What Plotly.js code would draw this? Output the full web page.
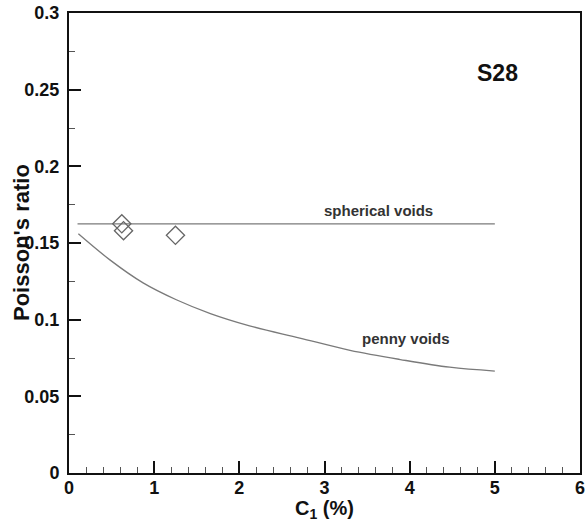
<!DOCTYPE html>
<html>
<head>
<meta charset="utf-8">
<script src="https://cdn.plot.ly/plotly-3.0.1.min.js"></script>
<style>html,body{margin:0;padding:0;background:#fff;}#chart{width:585px;height:526px;}</style>
</head>
<body>
<div id="chart"></div>
<script>
// Measured data (S28)
var measuredC1 = [0.62, 0.64, 1.25];
var measuredNu = [0.1625, 0.158, 0.155];

// Spherical voids model line
var sphericalC1 = [0.1, 5.0];
var sphericalNu = [0.1625, 0.1625];

// Penny voids model curve
var pennyC1 = [0.11, 0.48, 0.87, 1.26, 1.66, 2.12, 2.71, 3.30, 3.89, 4.47, 5.0];
var pennyNu = [0.156, 0.139, 0.124, 0.113, 0.104, 0.096, 0.088, 0.080, 0.074, 0.069, 0.0665];

var xTickVals = [0, 1, 2, 3, 4, 5, 6];
var yTickVals = [0, 0.05, 0.1, 0.15, 0.2, 0.25, 0.3];
var yTickText = ['0', '0.05', '0.1', '0.15', '0.2', '0.25', '0.3'];

var FONT = '"Liberation Sans", Arial, Helvetica, sans-serif';

var traces = [
  {x: sphericalC1, y: sphericalNu, mode: 'lines', line: {color: '#7a7a7a', width: 1.3}, hoverinfo: 'skip'},
  {x: pennyC1, y: pennyNu, mode: 'lines', line: {color: '#7a7a7a', width: 1.3, shape: 'spline'}, hoverinfo: 'skip'},
  {x: measuredC1, y: measuredNu, mode: 'markers',
   marker: {symbol: 'diamond-open', size: 14, color: '#666', line: {width: 1.3, color: '#666'}}}
];

var layout = {
  width: 585, height: 526,
  margin: {l: 69, r: 5, t: 13, b: 53},
  paper_bgcolor: '#fff', plot_bgcolor: '#fff',
  showlegend: false,
  font: {family: FONT, color: '#111'},
  xaxis: {
    range: [0, 6], tickvals: xTickVals, ticktext: xTickVals.map(String),
    showgrid: false, zeroline: false, showline: true, mirror: true,
    linecolor: '#111', linewidth: 2,
    ticks: 'inside', ticklen: 12, tickwidth: 2, tickcolor: '#111',
    minor: {dtick: 0.2, ticks: 'inside', ticklen: 6, tickwidth: 1, tickcolor: '#555', showgrid: false},
    tickfont: {family: FONT, size: 18, weight: 'bold', color: '#111'},
    ticklabelstandoff: -3,
    ticklabeloverflow: 'allow',
    automargin: false
  },
  yaxis: {
    range: [0, 0.3], tickvals: yTickVals, ticktext: yTickText,
    showgrid: false, zeroline: false, showline: true, mirror: true,
    linecolor: '#111', linewidth: 2,
    ticks: 'inside', ticklen: 12, tickwidth: 2, tickcolor: '#111',
    minor: {dtick: 0.025, ticks: 'inside', ticklen: 6, tickwidth: 1, tickcolor: '#555', showgrid: false},
    tickfont: {family: FONT, size: 18, weight: 'bold', color: '#111'},
    ticklabelstandoff: 4,
    ticklabeloverflow: 'allow',
    automargin: false
  },
  annotations: [
    {text: "Poisson's ratio", xref: 'paper', yref: 'paper', x: (21 - 69) / 511, y: 0.5,
     xanchor: 'center', yanchor: 'middle', textangle: -90, showarrow: false,
     font: {family: FONT, size: 22, weight: 'bold', color: '#111'}},
    {text: 'C<sub>1</sub> (%)', xref: 'paper', yref: 'paper', x: 0.5, y: (473 - 509) / 460,
     xanchor: 'center', yanchor: 'middle', showarrow: false,
     font: {family: FONT, size: 20, weight: 'bold', color: '#111'}},
    {text: 'spherical voids', xref: 'x', yref: 'y', x: 3.63, y: 0.171, showarrow: false,
     xanchor: 'center', yanchor: 'middle', font: {family: FONT, size: 15, weight: 'bold', color: '#333'}},
    {text: 'penny voids', xref: 'x', yref: 'y', x: 3.96, y: 0.088, showarrow: false,
     xanchor: 'center', yanchor: 'middle', font: {family: FONT, size: 15, weight: 'bold', color: '#333'}},
    {text: 'S28', xref: 'x', yref: 'y', x: 5.03, y: 0.261, showarrow: false,
     xanchor: 'center', yanchor: 'middle', font: {family: FONT, size: 23, weight: 'bold', color: '#111'}}
  ]
};

Plotly.newPlot('chart', traces, layout, {staticPlot: true, displayModeBar: false});
</script>
</body>
</html>
